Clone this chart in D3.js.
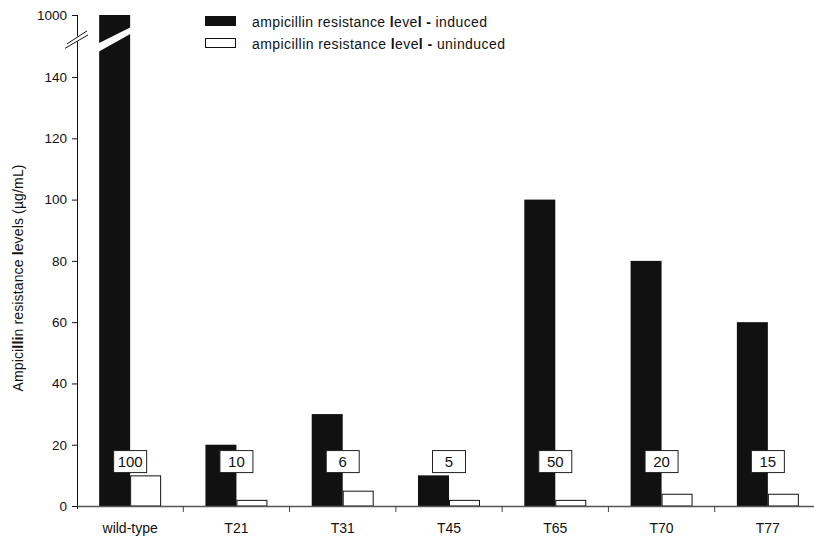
<!DOCTYPE html>
<html>
<head>
<meta charset="utf-8">
<script src="https://cdn.jsdelivr.net/npm/d3@7"></script>
<style>
  body { margin: 0; background: #fff; }
  svg { display: block; font-family: "Liberation Sans", Arial, sans-serif; }
</style>
</head>
<body>
<svg id="chart" width="814" height="539"></svg>
<script>
// Strains and measured ampicillin resistance (µg/mL)
const strains = ["wild-type", "T21", "T31", "T45", "T65", "T70", "T77"];
const induced = [1000, 20, 30, 10, 100, 80, 60];
const uninduced = [10, 2, 5, 2, 2, 4, 4];
// Fold-change labels shown between each pair of bars
const foldLabels = ["100", "10", "6", "5", "50", "20", "15"];
const seriesNames = ["ampicillin resistance level - induced", "ampicillin resistance level - uninduced"];
const yTicks = [0, 20, 40, 60, 80, 100, 120, 140, 1000];

const svg = d3.select("#chart");
const left = 77, bottom = 506;

// Broken y scale: 0–150 linear, then a compressed segment up to 1000
const y = d3.scaleLinear().domain([0, 150, 1000]).range([bottom, 46.4, 15]);
const x0 = d3.scaleBand().domain(strains).range([left, 821]).paddingInner(0).paddingOuter(0);
const x1 = d3.scaleBand().domain(["induced", "uninduced"]).range([0, x0.bandwidth()]).paddingInner(0).paddingOuter(0.715);

const rows = strains.map((s, i) => ({ strain: s, induced: induced[i], uninduced: uninduced[i], label: foldLabels[i] }));

// Bars
const groups = svg.append("g").selectAll("g").data(rows).join("g")
  .attr("transform", d => `translate(${x0(d.strain)},0)`);

groups.append("rect")
  .attr("x", x1("induced"))
  .attr("width", x1.bandwidth())
  .attr("y", d => y(d.induced))
  .attr("height", d => bottom - y(d.induced))
  .attr("fill", "#111");

groups.append("rect")
  .attr("x", x1("uninduced") + 0.5)
  .attr("width", x1.bandwidth() - 1)
  .attr("y", d => y(d.uninduced) + 0.5)
  .attr("height", d => bottom - y(d.uninduced) - 0.5)
  .attr("fill", "#fff")
  .attr("stroke", "#111")
  .attr("stroke-width", 1);

// White slash across the tall bar marking the axis break
const tall = rows.filter(d => d.induced > 150);
svg.append("g").selectAll("polygon").data(tall).join("polygon")
  .attr("fill", "#fff")
  .attr("points", d => {
    const xa = x0(d.strain) + x1("induced") - 1;
    const xb = xa + x1.bandwidth() + 2;
    const yb = y(150);
    return [[xa, yb - 3], [xb, yb - 19.5], [xb, yb - 13], [xa, yb + 5.5]].map(p => p.join(",")).join(" ");
  });

// Fold-change label boxes
const lab = groups.append("g")
  .attr("transform", d => `translate(${x1("uninduced")},${y(14.5)})`);
lab.append("rect").attr("class", "lbox");
lab.append("text")
  .attr("text-anchor", "middle")
  .attr("dy", "0.36em")
  .attr("font-size", 15)
  .attr("fill", "#111")
  .text(d => d.label);
lab.each(function () {
  const g = d3.select(this);
  const w = Math.max(g.select("text").node().getBBox().width + 6, 33);
  g.select("rect")
    .attr("x", -w / 2).attr("y", -11).attr("width", w).attr("height", 22)
    .attr("fill", "#fff").attr("stroke", "#222").attr("stroke-width", 1);
});

// Y axis (drawn with a break between 140 and 1000)
const yAxis = svg.append("g").attr("transform", `translate(${left},0)`)
  .call(d3.axisLeft(y).tickValues(yTicks).tickSize(5).tickPadding(5).tickFormat(d3.format("d")));
yAxis.select(".domain").remove();
yAxis.selectAll("text").attr("font-size", 13.5).attr("fill", "#111").attr("font-family", "Liberation Sans, Arial, sans-serif");
yAxis.selectAll("line").attr("stroke", "#111");
const yb = y(150);
yAxis.append("line").attr("x1", 0.5).attr("x2", 0.5).attr("y1", y(1000)).attr("y2", yb - 10).attr("stroke", "#111");
yAxis.append("line").attr("x1", 0.5).attr("x2", 0.5).attr("y1", yb - 5).attr("y2", bottom + 3).attr("stroke", "#111");
// Break marks
[[-10, yb - 2.5, 10, yb - 15.5], [-12, yb + 2, 11, yb - 11.5]].forEach(([a, b, c, d]) => {
  yAxis.append("line").attr("x1", a).attr("y1", b).attr("x2", c).attr("y2", d).attr("stroke", "#111").attr("stroke-width", 1);
});

// X axis
const xAxis = svg.append("g").attr("transform", `translate(0,${bottom})`);
xAxis.append("line").attr("x1", left).attr("x2", 814).attr("y1", 0.5).attr("y2", 0.5).attr("stroke", "#555").attr("stroke-width", 1.3);
xAxis.selectAll("line.tick").data(strains.slice(1)).join("line")
  .attr("class", "tick")
  .attr("x1", d => x0(d)).attr("x2", d => x0(d))
  .attr("y1", 0).attr("y2", 6).attr("stroke", "#444");
xAxis.selectAll("text").data(strains).join("text")
  .attr("x", d => x0(d) + x0.bandwidth() / 2)
  .attr("y", 26.5)
  .attr("text-anchor", "middle")
  .attr("font-size", 14)
  .attr("fill", "#111")
  .text(d => d);

// Y axis title (the doubled "l" glyphs print heavier)
const title = svg.append("text")
  .attr("transform", `translate(23,278) rotate(-90)`)
  .attr("text-anchor", "middle")
  .attr("font-size", 14)
  .attr("textLength", 227)
  .attr("lengthAdjust", "spacing")
  .attr("fill", "#111");
[["Ampici", 400], ["lli", 700], ["n resistance ", 400], ["l", 700], ["evels (µg/mL)", 400]].forEach(([t, w]) => {
  title.append("tspan").attr("font-weight", w).text(t);
});

// Legend
const legend = svg.append("g");
const legendWidths = [235, 253];
seriesNames.forEach((name, i) => {
  const ly = 16 + i * 22;
  legend.append("rect")
    .attr("x", i ? 205.5 : 205).attr("y", i ? ly + 0.5 : ly)
    .attr("width", i ? 30 : 31).attr("height", i ? 9 : 10)
    .attr("fill", i ? "#fff" : "#111")
    .attr("stroke", i ? "#111" : "none");
  const t = legend.append("text").attr("x", 252).attr("y", ly + 10.5)
    .attr("font-size", 14).attr("fill", "#111")
    .attr("textLength", legendWidths[i]).attr("lengthAdjust", "spacing");
  const parts = name.split("level");
  t.append("tspan").text(parts[0]);
  t.append("tspan").attr("font-weight", 700).text("l");
  t.append("tspan").text("eve");
  t.append("tspan").attr("font-weight", 700).text("l");
  t.append("tspan").text(" ");
  t.append("tspan").attr("font-weight", 700).text("-");
  t.append("tspan").text(parts[1].replace(/^ - /, " "));
});
</script>
</body>
</html>
